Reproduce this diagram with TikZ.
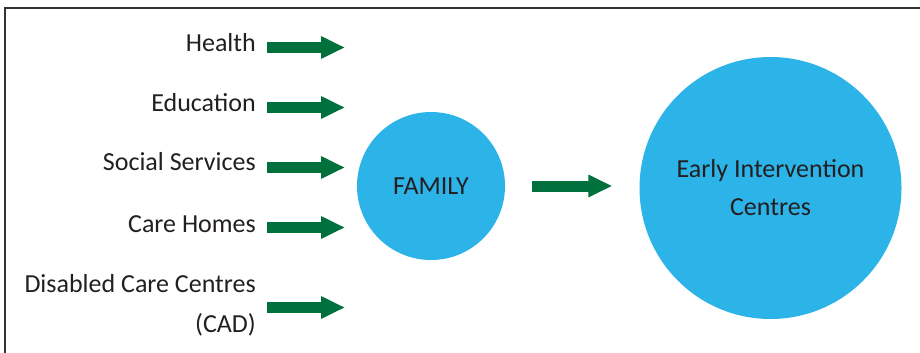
\documentclass[tikz,border=0pt]{standalone}
\usepackage{fontspec}
\setmainfont{Carlito}
\usepackage{xcolor}
\usetikzlibrary{arrows.meta, positioning}

\definecolor{famblue}{HTML}{2CB3E8}
\definecolor{arrowgreen}{HTML}{00703C}
\definecolor{inktext}{HTML}{231F20}

\begin{document}
\begin{tikzpicture}[x=1pt,y=-1pt,
  label node/.style={inner sep=0pt,align=right,text=inktext,font=\fontsize{26}{40}\selectfont},
  circle node/.style={circle,fill=famblue,inner sep=0pt,align=center,text=inktext,font=\fontsize{26}{38}\selectfont},
  fat arrow/.style={draw=arrowgreen,line width=11pt,-{Triangle[length=24pt,width=21pt]}}]

  \useasboundingbox (0,0) rectangle (920,353);
  \draw[line width=2pt,draw=black!80] (5,370) -- (5,8) -- (940,8);

  % sources
  \node[label node,anchor=base east] (health) at (256,52) {Health};
  \node[label node,anchor=base east] (education) at (256,111) {Education};
  \node[label node,anchor=base east] (social) at (256,170) {Social Services};
  \node[label node,anchor=base east] (carehomes) at (256,232) {Care Homes};
  \node[label node,anchor=east] (disabled) at (256,305.5) {Disabled Care Centres\\(CAD)};

  % circles
  \node[circle node,minimum size=148pt] (family) at (431,186) {FAMILY};
  \node[circle node,minimum size=262pt] (eic) at (770.5,188) {Early Intervention\\Centres};

  \coordinate (health tail) at (267,47.5);
  \coordinate (health tip) at (345,47.5);
  \coordinate (education tail) at (267,107.5);
  \coordinate (education tip) at (345,107.5);
  \coordinate (social tail) at (267,167.5);
  \coordinate (social tip) at (345,167.5);
  \coordinate (carehomes tail) at (267,227.5);
  \coordinate (carehomes tip) at (345,227.5);
  \coordinate (disabled tail) at (267,307.5);
  \coordinate (disabled tip) at (345,307.5);

  \draw[fat arrow] (health tail) -- (health tip);
  \draw[fat arrow] (education tail) -- (education tip);
  \draw[fat arrow] (social tail) -- (social tip);
  \draw[fat arrow] (carehomes tail) -- (carehomes tip);
  \draw[fat arrow] (disabled tail) -- (disabled tip);

  \draw[fat arrow] ([xshift=27pt]family.east) -- ([xshift=-27pt]family.east -| eic.west);
\end{tikzpicture}
\end{document}
